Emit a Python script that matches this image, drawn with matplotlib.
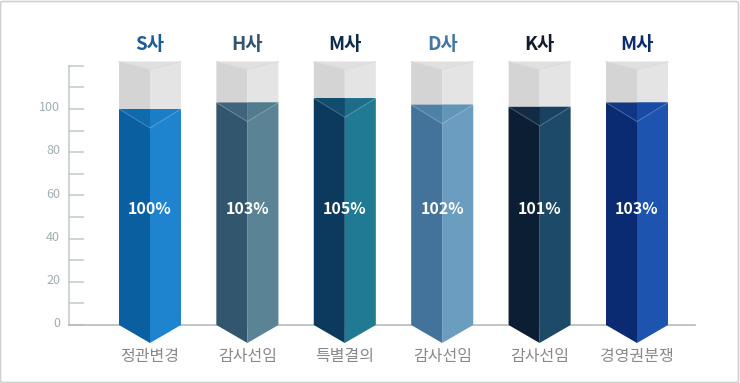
import matplotlib
matplotlib.use("Agg")
import matplotlib.pyplot as plt
from matplotlib.patches import Polygon, FancyBboxPatch
import numpy as np

plt.rcParams['font.family'] = ['Noto Sans CJK KR', 'DejaVu Sans']

companies = ["S사", "H사", "M사", "D사", "K사", "M사"]
categories = ["정관변경", "감사선임", "특별결의", "감사선임", "감사선임", "경영권분쟁"]
values = [100, 103, 105, 102, 101, 103]
value_labels = ["100%", "103%", "105%", "102%", "101%", "103%"]
left_colors = ["#0a5fa0", "#33566f", "#0b3a5e", "#43739a", "#0b1e33", "#0a2a72"]
right_colors = ["#1e84cf", "#5a8496", "#217a93", "#6b9dc0", "#1e4a6a", "#1c54b0"]
title_colors = ["#1b5c96", "#34546e", "#0e2c4a", "#4477a2", "#111d2b", "#0d2c6e"]
tick_values = list(range(0, 130, 10))
tick_labels = ["0", "20", "40", "60", "80", "100"]
box_max = 122

W, H = 740, 383
fig = plt.figure(figsize=(W / 100, H / 100), dpi=100)
ax = fig.add_axes([0, 0, 1, 1])
px_per_x = 97.4
px_per_y = 2.16
x0_px, y0_px = 150, 325
ax.set_xlim(-x0_px / px_per_x, (W - x0_px) / px_per_x)
ax.set_ylim(-(H - y0_px) / px_per_y, y0_px / px_per_y)
ax.axis('off')

hw = 31 / px_per_x
tip = 18 / px_per_y
vdep = 19 / px_per_y
gdep = 8 / px_per_y

def hex2rgb(h):
    h = h.lstrip('#')
    return np.array([int(h[i:i + 2], 16) / 255 for i in (0, 2, 4)])

# axis
ax_x = (69 - x0_px) / px_per_x
tick_end = (83 - x0_px) / px_per_x
axis_col = "#c3cdcf"
ax.plot([ax_x, ax_x], [0, tick_values[-1]], color=axis_col, lw=1.2, zorder=1)
for t in tick_values:
    ax.plot([ax_x, tick_end], [t, t], color=axis_col, lw=1.2, zorder=1)
for lab in tick_labels:
    ax.text((60 - x0_px) / px_per_x, float(lab) + 0.6, lab, ha='right', va='center',
            fontsize=9, color="#a0afb2")
ax.plot([ax_x, (695 - x0_px) / px_per_x], [0, 0], color="#b4bcbf", lw=1.2, zorder=1)

for i, v in enumerate(values):
    x = i
    # gray background box
    ax.add_patch(Polygon([(x - hw, 0), (x - hw, box_max), (x, box_max - gdep), (x, 0)],
                         closed=True, fc="#d4d4d4", ec='none', zorder=2))
    ax.add_patch(Polygon([(x, 0), (x, box_max - gdep), (x + hw, box_max), (x + hw, 0)],
                         closed=True, fc="#e4e4e4", ec='none', zorder=2))
    ax.add_patch(Polygon([(x - hw, box_max), (x + hw, box_max), (x, box_max - gdep)],
                         closed=True, fc="#e0e0e0", ec='none', zorder=2))
    ax.plot([x - hw, x, x + hw], [box_max, box_max - gdep, box_max], color="#d9d9d9", lw=0.6, zorder=2)

    lc = hex2rgb(left_colors[i]); rc = hex2rgb(right_colors[i])
    ax.add_patch(Polygon([(x - hw, v), (x - hw, 0), (x, -tip), (x, v)],
                         closed=True, fc=lc, ec='none', zorder=3))
    ax.add_patch(Polygon([(x, v), (x, -tip), (x + hw, 0), (x + hw, v)],
                         closed=True, fc=rc, ec='none', zorder=3))
    mid = (lc + rc) / 2
    ax.add_patch(Polygon([(x - hw, v), (x, v), (x, v - vdep)],
                         closed=True, fc=lc * 0.4 + mid * 0.6, ec='none', zorder=4))
    ax.add_patch(Polygon([(x, v), (x + hw, v), (x, v - vdep)],
                         closed=True, fc=rc * 0.6 + mid * 0.4, ec='none', zorder=4))
    ax.plot([x - hw, x, x + hw], [v, v - vdep, v], color='white', alpha=0.25, lw=0.7, zorder=5)

    ax.text(x, (y0_px - 45) / px_per_y, companies[i], ha='center', va='center',
            fontsize=13.5, fontweight='bold', color=title_colors[i])
    ax.text(x, (y0_px - 209) / px_per_y, value_labels[i], ha='center', va='center',
            fontsize=11.5, fontweight='bold', color='white', zorder=6)
    ax.text(x, (y0_px - 357) / px_per_y, categories[i], ha='center', va='center',
            fontsize=11.5, color="#888888")

border = FancyBboxPatch((0.5 / W, 0.5 / H), 1 - 2 / W, 1 - 2 / H,
                        boxstyle="round,pad=0,rounding_size=0.004",
                        transform=fig.transFigure, fc='none', ec="#d0d0d0", lw=1.2)
fig.patches.append(border)

fig.savefig("out.png", dpi=100)
